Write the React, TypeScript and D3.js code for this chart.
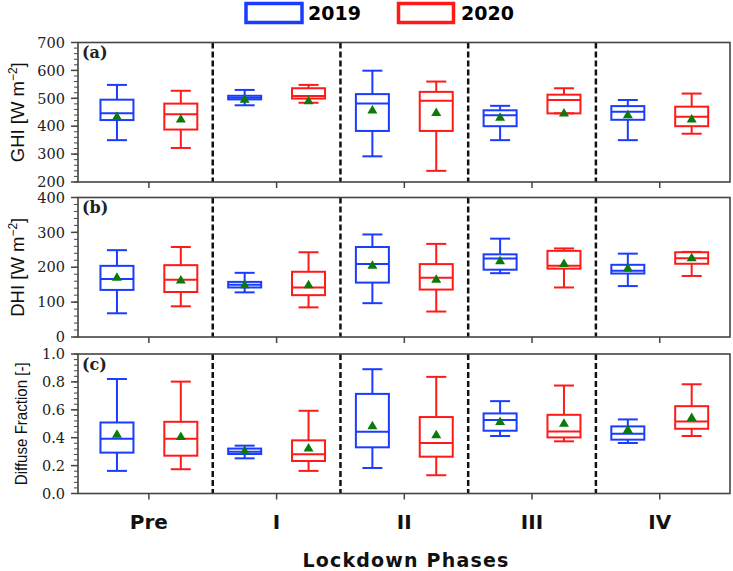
import React from "react";
import * as d3 from "d3";

const phases = ["Pre", "I", "II", "III", "IV"];
const years = ["2019", "2020"];

// [whiskerLow, q1, median, q3, whiskerHigh, mean]
const ghi2019 = [
  [350, 422, 446, 495, 548, 437],
  [475, 496, 502, 509, 530, 498],
  [292, 383, 481, 515, 599, 460],
  [350, 400, 439, 457, 473, 434],
  [350, 423, 452, 472, 494, 443],
];
const ghi2020 = [
  [322, 388, 443, 481, 527, 428],
  [484, 499, 508, 536, 548, 493],
  [240, 383, 491, 523, 560, 451],
  [446, 446, 494, 513, 536, 449],
  [373, 400, 434, 470, 517, 428],
];
const dhi2019 = [
  [68, 135, 166, 204, 249, 173],
  [128, 142, 150, 158, 184, 151],
  [97, 156, 209, 258, 294, 207],
  [183, 193, 225, 237, 282, 220],
  [146, 182, 190, 207, 239, 199],
];
const dhi2020 = [
  [88, 129, 164, 206, 258, 165],
  [85, 120, 142, 187, 243, 151],
  [73, 136, 170, 209, 267, 167],
  [142, 196, 204, 247, 254, 212],
  [175, 210, 226, 243, 244, 229],
];
const df2019 = [
  [0.162, 0.293, 0.393, 0.509, 0.821, 0.429],
  [0.252, 0.283, 0.3, 0.322, 0.343, 0.31],
  [0.183, 0.331, 0.443, 0.714, 0.891, 0.49],
  [0.412, 0.45, 0.526, 0.574, 0.662, 0.519],
  [0.362, 0.386, 0.429, 0.481, 0.531, 0.462],
];
const df2020 = [
  [0.174, 0.271, 0.393, 0.514, 0.802, 0.412],
  [0.162, 0.233, 0.281, 0.381, 0.593, 0.329],
  [0.131, 0.264, 0.362, 0.548, 0.836, 0.424],
  [0.374, 0.402, 0.445, 0.564, 0.774, 0.507],
  [0.412, 0.464, 0.517, 0.626, 0.783, 0.548],
];

const ghiTicks = [200, 300, 400, 500, 600, 700];
const dhiTicks = [0, 100, 200, 300, 400];
const dfTicks = [0, 0.2, 0.4, 0.6, 0.8, 1.0];

const colors = ["#1a3cff", "#ff1a1a"];
const meanColor = "#0a7a0a";

const panels = [
  { label: "(a)", domain: [200, 700], ticks: ghiTicks, minor: 20, fmt: (v: number) => String(v), series: [ghi2019, ghi2020], yl: "GHI", unit: true, top: 42.5 },
  { label: "(b)", domain: [0, 400], ticks: dhiTicks, minor: 20, fmt: (v: number) => String(v), series: [dhi2019, dhi2020], yl: "DHI", unit: true, top: 197.5 },
  { label: "(c)", domain: [0, 1], ticks: dfTicks, minor: 0.04, fmt: (v: number) => v.toFixed(1), series: [df2019, df2020], yl: "Diffuse Fraction [-]", unit: false, top: 354 },
];

const PH = 139.5;
const L = 78;
const R = 730;

export default function App() {
  const x = d3.scaleLinear().domain([-0.555, 4.55]).range([L, R]);
  const offs = [-0.25, 0.25];
  const bw = 33;
  const cw = 20;
  const serif = "'DejaVu Serif', serif";
  const sansB = "'DejaVu Sans', sans-serif";

  return (
    <svg width={733} height={571} style={{ position: "absolute", left: 0, top: 0 }}>
      {/* legend */}
      <rect x={246} y={3.5} width={56} height={19} fill="none" stroke={colors[0]} strokeWidth={3.5} />
      <text x={308} y={20} fontFamily={sansB} fontWeight="bold" fontSize={19}>{years[0]}</text>
      <rect x={398.5} y={3.5} width={55} height={19} fill="none" stroke={colors[1]} strokeWidth={3.5} />
      <text x={461} y={20} fontFamily={sansB} fontWeight="bold" fontSize={19}>{years[1]}</text>

      {panels.map((p, pi) => {
        const y = d3.scaleLinear().domain(p.domain).range([p.top + PH, p.top]);
        const [d0, d1] = p.domain;
        const minorTicks = d3.range(d0, d1 + p.minor / 2, p.minor);
        const cy = p.top + PH / 2;
        return (
          <g key={pi}>
            {/* dashed separators */}
            {[0.5, 1.5, 2.5, 3.5].map((v) => (
              <line key={v} x1={x(v)} x2={x(v)} y1={p.top} y2={p.top + PH} stroke="#111" strokeWidth={2.5} strokeDasharray="6,3" />
            ))}
            {/* frame */}
            <rect x={L} y={p.top} width={R - L} height={PH} fill="none" stroke="#444" strokeWidth={1.6} />
            {/* minor ticks */}
            {minorTicks.map((v, i) => (
              <line key={"m" + i} x1={L - 4} x2={L} y1={y(v)} y2={y(v)} stroke="#444" strokeWidth={1} />
            ))}
            {p.ticks.map((v) => (
              <g key={v}>
                <line x1={L - 7} x2={L} y1={y(v)} y2={y(v)} stroke="#444" strokeWidth={1.5} />
                <text x={65} y={y(v)} dy="0.36em" textAnchor="end" fontFamily={serif} fontSize={14.5} fill="#222">{p.fmt(v)}</text>
              </g>
            ))}
            {/* x ticks */}
            {phases.map((_, i) => (
              <line key={"xt" + i} x1={x(i)} x2={x(i)} y1={p.top + PH} y2={p.top + PH + 6} stroke="#444" strokeWidth={1.5} />
            ))}
            <text x={82} y={p.top + 15.5} fontFamily={serif} fontWeight="bold" fontSize={16} fill="#222">{p.label}</text>
            {/* y label */}
            {p.unit ? (
              <text transform={`translate(24,${cy}) rotate(-90)`} textAnchor="middle" fontFamily="'Liberation Sans', Arial, sans-serif" fontSize={18.5} fill="#111">
                {p.yl} [W m<tspan dy={-7} fontSize={12}>−2</tspan><tspan dy={7}>]</tspan>
              </text>
            ) : (
              <text transform={`translate(27,${cy}) rotate(-90)`} textAnchor="middle" fontFamily="'Liberation Sans', Arial, sans-serif" fontSize={17} textLength={123} lengthAdjust="spacingAndGlyphs" fill="#111">
                {p.yl}
              </text>
            )}
            {/* boxes */}
            {p.series.map((ser, si) =>
              ser.map((d, i) => {
                const cx = x(i + offs[si]);
                const [lo, q1, med, q3, hi, mean] = d;
                const c = colors[si];
                const my = y(mean);
                return (
                  <g key={si + "-" + i} stroke={c} strokeWidth={2} fill="none">
                    <line x1={cx} x2={cx} y1={y(hi)} y2={y(q3)} />
                    <line x1={cx} x2={cx} y1={y(q1)} y2={y(lo)} />
                    <line x1={cx - cw / 2} x2={cx + cw / 2} y1={y(hi)} y2={y(hi)} />
                    <line x1={cx - cw / 2} x2={cx + cw / 2} y1={y(lo)} y2={y(lo)} />
                    <rect x={cx - bw / 2} y={y(q3)} width={bw} height={Math.max(0.5, y(q1) - y(q3))} />
                    <line x1={cx - bw / 2} x2={cx + bw / 2} y1={y(med)} y2={y(med)} />
                    <path d={`M${cx - 5},${my + 4}L${cx + 5},${my + 4}L${cx},${my - 4.5}Z`} fill={meanColor} stroke="none" />
                  </g>
                );
              })
            )}
          </g>
        );
      })}
      {/* category labels */}
      {phases.map((ph, i) => (
        <text key={ph} x={x(i)} y={529} textAnchor="middle" fontFamily={sansB} fontWeight="bold" fontSize={20} fill="#111">{ph}</text>
      ))}
      <text x={406} y={567} textAnchor="middle" fontFamily={sansB} fontWeight="bold" fontSize={19} letterSpacing={1.2} fill="#111">Lockdown Phases</text>
    </svg>
  );
}
